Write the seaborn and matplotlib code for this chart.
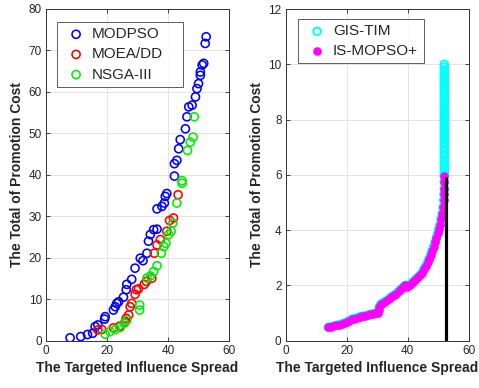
import numpy as np
import pandas as pd
import matplotlib
matplotlib.use("Agg")
import matplotlib.pyplot as plt
import seaborn as sns

# ---------------- data (left panel) ----------------
modpso_x = [7.9, 11.4, 13.6, 15.3, 16.1, 17.0, 19.2, 19.4, 22.1, 22.7, 23.2, 23.8, 25.4, 26.3,
            26.5, 28.1, 29.2, 30.9, 31.8, 33.1, 33.6, 34.2, 35.3, 36.4, 36.4, 38.0, 38.8, 39.1,
            39.6, 42.1, 42.1, 42.9, 43.5, 44.0, 45.7, 46.2, 46.8, 47.9, 49.0, 49.5, 50.0, 50.6,
            50.6, 51.2, 51.7, 52.2, 52.5]
modpso_y = [0.7, 1.0, 1.5, 1.8, 3.4, 3.8, 5.2, 5.8, 7.4, 8.2, 9.0, 9.4, 10.5, 12.3,
            13.6, 14.8, 17.5, 19.9, 19.3, 21.1, 24.0, 25.6, 26.8, 26.9, 31.8, 32.4, 33.2, 34.8,
            35.5, 39.7, 42.7, 43.5, 46.3, 48.5, 51.1, 54.0, 56.4, 56.8, 58.8, 60.8, 62.0, 64.0,
            64.8, 66.5, 66.9, 71.7, 73.3]

moeadd_x = [17.0, 18.3, 22.1, 24.1, 26.0, 26.3, 27.1, 27.6, 28.1, 29.2, 29.6, 30.3, 32.2, 32.9,
            34.7, 35.5, 36.4, 37.5, 39.6, 40.5, 41.8, 43.3]
moeadd_y = [2.6, 2.7, 3.1, 3.5, 4.6, 5.4, 6.2, 8.2, 9.0, 11.2, 12.3, 12.5, 13.6, 14.3,
            15.1, 21.1, 23.1, 24.4, 26.4, 29.0, 29.6, 35.2]

nsga_x = [19.4, 21.0, 22.7, 24.3, 25.6, 26.5, 30.7, 30.7, 33.1, 34.2, 35.3, 36.4, 37.8, 38.6,
          39.3, 40.2, 41.0, 41.6, 42.9, 44.6, 44.6, 46.4, 47.3, 48.2, 48.6]
nsga_y = [1.6, 2.2, 2.7, 3.2, 4.2, 5.0, 8.6, 7.4, 15.1, 15.6, 16.7, 18.1, 21.1, 22.7,
          23.5, 25.6, 26.4, 28.4, 33.2, 38.6, 38.0, 45.9, 47.9, 49.1, 54.0]

# ---------------- data (right panel) ----------------
curve_x = [14.0, 14.8, 15.6, 16.5, 17.4, 18.3, 19.2, 20.0, 20.8, 21.6, 22.4, 23.3, 24.2, 25.1,
           26.0, 26.9, 27.8, 28.6, 29.4, 30.1, 30.5, 30.7, 31.2, 32.0, 32.9, 33.8, 34.6, 35.4,
           36.2, 37.0, 37.8, 38.6, 39.2, 39.9, 40.6, 41.3, 42.0, 42.7, 43.4, 44.1, 44.7, 45.3,
           45.9, 46.5, 47.0, 47.5, 48.0, 48.5, 49.0, 49.4, 49.8, 50.2, 50.6, 50.9, 51.3, 51.6,
           51.8, 51.9, 52.0, 52.0, 52.0]
curve_y = [0.48, 0.50, 0.52, 0.55, 0.57, 0.60, 0.63, 0.67, 0.72, 0.77, 0.80, 0.83, 0.86, 0.88,
           0.90, 0.93, 0.95, 0.97, 0.99, 1.02, 1.10, 1.22, 1.32, 1.38, 1.44, 1.50, 1.58, 1.64,
           1.70, 1.78, 1.86, 1.94, 2.00, 1.96, 2.02, 2.09, 2.15, 2.22, 2.30, 2.38, 2.46, 2.58,
           2.70, 2.83, 2.96, 3.10, 3.25, 3.40, 3.56, 3.72, 3.88, 4.04, 4.20, 4.40, 4.60, 4.82,
           5.08, 5.30, 5.50, 5.75, 5.95]
column_y = [6.05, 6.15, 6.25, 6.35, 6.45, 6.55, 6.65, 6.75, 6.9, 7.0, 7.1, 7.2, 7.3, 7.4,
            7.5, 7.6, 7.7, 7.8, 7.9, 8.0, 8.1, 8.2, 8.3, 8.4, 8.5, 8.6, 8.7, 8.8,
            8.9, 9.0, 9.1, 9.2, 9.3, 9.4, 9.5, 9.6, 9.7, 9.8, 9.9, 10.0]
column_x = [52.0] * len(column_y)
limit_x = [52.4, 52.4]
limit_y = [0.0, 5.9]

gis_x = curve_x + column_x
gis_y = curve_y + column_y
ismopso_x = curve_x
ismopso_y = curve_y

# ---------------- style ----------------
sns.set_theme(style="white")
plt.rcParams['font.family'] = ['Liberation Sans', 'DejaVu Sans']
TXT = '#262626'

fig = plt.figure(figsize=(4.79, 3.88), dpi=100)
axL = fig.add_axes([46 / 479, 1 - 340.7 / 388, 183 / 479, 331.7 / 388])
axR = fig.add_axes([285.7 / 479, 1 - 340.7 / 388, 183 / 479, 331.7 / 388])

sns.scatterplot(x=modpso_x, y=modpso_y, ax=axL, marker='o', s=34, facecolor='none',
                edgecolor='#0000ff', linewidth=1.15, label='MODPSO')
sns.scatterplot(x=moeadd_x, y=moeadd_y, ax=axL, marker='o', s=34, facecolor='none',
                edgecolor='#ff0000', linewidth=1.15, label='MOEA/DD')
sns.scatterplot(x=nsga_x, y=nsga_y, ax=axL, marker='o', s=34, facecolor='none',
                edgecolor='#00ee00', linewidth=1.15, label='NSGA-III')

sns.scatterplot(x=gis_x, y=gis_y, ax=axR, marker='o', s=30, facecolor='none',
                edgecolor='#00ffff', linewidth=1.4, label='GIS-TIM')
sns.scatterplot(x=ismopso_x, y=ismopso_y, ax=axR, marker='o', s=34, facecolor='#ff00ff',
                edgecolor='#ff00ff', linewidth=0.3, label='IS-MOPSO+')
sns.lineplot(x=limit_x, y=limit_y, ax=axR, color='black', linewidth=2.3, legend=False,
             estimator=None, sort=False)

for ax, ymax, yt in [(axL, 80, np.arange(0, 81, 10)), (axR, 12, np.arange(0, 13, 2))]:
    ax.set_xlim(0, 60)
    ax.set_ylim(0, ymax)
    ax.set_xticks([0, 20, 40, 60])
    ax.set_yticks(yt)
    ax.grid(True, color='#e3e3e3', linewidth=0.7)
    ax.set_axisbelow(True)
    for sp in ax.spines.values():
        sp.set_color('#333333')
        sp.set_linewidth(0.7)
        sp.set_visible(True)
    ax.tick_params(direction='in', length=3, width=0.6, colors=TXT, labelsize=8.5,
                   top=True, right=True, bottom=True, left=True, pad=3)
    ax.set_xlabel('The Targeted Influence Spread', fontsize=10, fontweight='bold',
                  color=TXT, labelpad=3)
    ax.set_ylabel('The Total of Promotion Cost', fontsize=10, fontweight='bold',
                  color=TXT, labelpad=3)

legL = axL.legend(loc='upper left', bbox_to_anchor=(0.06, 0.74, 0.689, 0.221), mode='expand',
                  borderaxespad=0, fontsize=11, frameon=True, fancybox=False,
                  edgecolor='#333333', handlelength=1.8, handletextpad=0.15,
                  labelspacing=0.4, borderpad=0.35)
legL.get_frame().set_linewidth(0.7)
legR = axR.legend(loc='upper left', bbox_to_anchor=(0.067, 0.80, 0.689, 0.17), mode='expand',
                  borderaxespad=0, fontsize=11, frameon=True, fancybox=False,
                  edgecolor='#333333', handlelength=1.8, handletextpad=0.15,
                  labelspacing=0.35, borderpad=0.35)
legR.get_frame().set_linewidth(0.7)

fig.savefig('out.png', dpi=100)
